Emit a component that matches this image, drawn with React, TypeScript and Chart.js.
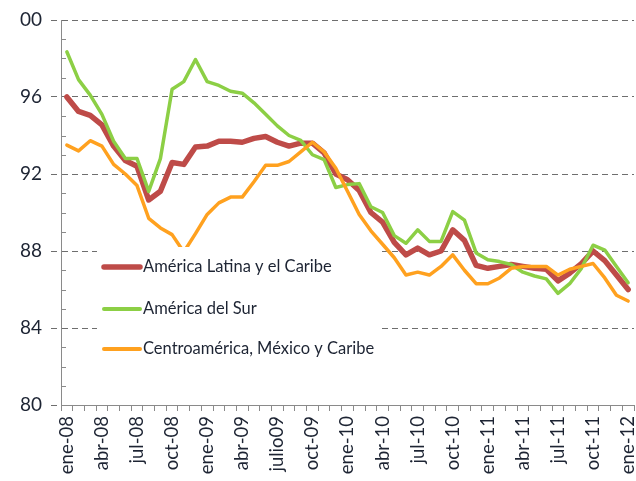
import React, { useEffect, useRef } from "react";
import { Chart, registerables } from "chart.js";

Chart.register(...registerables);

const categories = [
  "ene-08","feb-08","mar-08","abr-08","may-08","jun-08","jul-08","ago-08","sep-08","oct-08","nov-08","dic-08",
  "ene-09","feb-09","mar-09","abr-09","may-09","jun-09","julio09","ago-09","sep-09","oct-09","nov-09","dic-09",
  "ene-10","feb-10","mar-10","abr-10","may-10","jun-10","jul-10","ago-10","sep-10","oct-10","nov-10","dic-10",
  "ene-11","feb-11","mar-11","abr-11","may-11","jun-11","jul-11","ago-11","sep-11","oct-11","nov-11","dic-11",
  "ene-12",
];

const xTickLabels = [
  "ene-08","abr-08","jul-08","oct-08","ene-09","abr-09","julio09","oct-09",
  "ene-10","abr-10","jul-10","oct-10","ene-11","abr-11","jul-11","oct-11","ene-12",
];

const yTickLabels = ["80", "84", "88", "92", "96", "00"];

const seriesNames = [
  "América Latina y el Caribe",
  "América del Sur",
  "Centroamérica, México y Caribe",
];

const latinAmerica = [
  96.0, 95.25, 95.05, 94.55, 93.45, 92.7, 92.4, 90.65, 91.1, 92.6, 92.5, 93.4,
  93.45, 93.7, 93.7, 93.65, 93.85, 93.95, 93.65, 93.45, 93.6, 93.6, 93.1, 92.0,
  91.7, 91.15, 90.0, 89.5, 88.45, 87.8, 88.15, 87.8, 88.0, 89.1, 88.55, 87.25,
  87.1, 87.2, 87.3, 87.2, 87.1, 87.05, 86.45, 86.85, 87.35, 88.0, 87.5, 86.75,
  86.0,
];

const southAmerica = [
  98.35, 96.9, 96.1, 95.1, 93.7, 92.8, 92.8, 91.1, 92.8, 96.4, 96.8, 97.95,
  96.8, 96.6, 96.3, 96.2, 95.7, 95.1, 94.5, 94.0, 93.75, 93.0, 92.75, 91.3,
  91.45, 91.5, 90.3, 90.0, 88.8, 88.4, 89.1, 88.5, 88.5, 90.05, 89.6, 87.9,
  87.55, 87.45, 87.3, 86.9, 86.7, 86.55, 85.8, 86.3, 87.1, 88.3, 88.05, 87.2,
  86.35,
];

const centralAmerica = [
  93.5, 93.2, 93.73, 93.45, 92.5, 92.0, 91.4, 89.7, 89.2, 88.85, 87.95, 88.9,
  89.9, 90.5, 90.8, 90.8, 91.6, 92.45, 92.45, 92.65, 93.15, 93.65, 93.15, 92.3,
  91.1, 89.9, 89.05, 88.35, 87.65, 86.75, 86.9, 86.75, 87.2, 87.8, 87.0, 86.3,
  86.3, 86.6, 87.1, 87.2, 87.2, 87.2, 86.75, 87.05, 87.2, 87.35, 86.6, 85.7,
  85.4,
];

const COLORS = ["#BE4B48", "#8CCF45", "#FFA11F"];
const WIDTHS = [5.5, 3.5, 3.5];
const TEXT = "#1d2433";
const FONT = "Lato, 'Open Sans', sans-serif";

const decorPlugin = {
  id: "decor",
  afterDatasetsDraw(chart: any) {
    const { ctx, chartArea, scales } = chart;
    const y = scales.y;
    ctx.save();
    // minor ticks inside the y axis
    ctx.strokeStyle = "#8a8a8a";
    ctx.lineWidth = 1;
    for (let v = 81; v < 100; v++) {
      if (v % 4 === 0) continue;
      const py = Math.round(y.getPixelForValue(v)) + 0.5;
      ctx.beginPath();
      ctx.moveTo(chartArea.left, py);
      ctx.lineTo(chartArea.left + 5, py);
      ctx.stroke();
    }
    // legend box inside the plot
    ctx.fillStyle = "#ffffff";
    ctx.fillRect(97, 247, 281, 124);
    const rows = [267, 309, 349];
    ctx.lineCap = "round";
    ctx.font = `16.5px ${FONT}`;
    ctx.textBaseline = "middle";
    ctx.textAlign = "left";
    seriesNames.forEach((name, i) => {
      ctx.strokeStyle = COLORS[i];
      ctx.lineWidth = i === 0 ? 5.5 : 4;
      ctx.beginPath();
      ctx.moveTo(104, rows[i]);
      ctx.lineTo(140, rows[i]);
      ctx.stroke();
      ctx.fillStyle = TEXT;
      ctx.fillText(name, 143, rows[i]);
    });
    ctx.restore();
  },
};

export default function App() {
  const ref = useRef<HTMLCanvasElement | null>(null);

  useEffect(() => {
    if (!ref.current) return;
    const series = [latinAmerica, southAmerica, centralAmerica];
    const chart = new Chart(ref.current, {
      type: "line",
      data: {
        labels: categories,
        datasets: series.map((d, i) => ({
          label: seriesNames[i],
          data: d,
          borderColor: COLORS[i],
          backgroundColor: COLORS[i],
          borderWidth: WIDTHS[i],
          pointRadius: 0,
          tension: 0,
          borderJoinStyle: "round",
          borderCapStyle: "round",
          fill: false,
          order: 3 - i,
        })),
      },
      options: {
        animation: false,
        responsive: false,
        devicePixelRatio: 1,
        layout: { padding: { top: 20, right: 2, left: 0, bottom: 0 } },
        plugins: {
          legend: { display: false },
          tooltip: { enabled: false },
        },
        scales: {
          x: {
            type: "category",
            offset: true,
            grid: {
              display: true,
              offset: true,
              drawOnChartArea: false,
              drawTicks: true,
              tickLength: 6,
              tickColor: "#8a8a8a",
            },
            border: { display: true, color: "#8a8a8a", width: 1 },
            ticks: {
              autoSkip: false,
              maxRotation: 90,
              minRotation: 90,
              padding: 5,
              color: TEXT,
              font: { family: FONT, size: 18.5 },
              callback: (_v: any, idx: number) =>
                idx % 3 === 0 ? xTickLabels[idx / 3] : "",
            },
            afterFit: (s: any) => {
              s.height = 76;
              s.paddingLeft = 0;
              s.paddingRight = 0;
            },
          },
          y: {
            min: 80,
            max: 100,
            grid: {
              display: true,
              drawOnChartArea: true,
              drawTicks: true,
              tickLength: 10,
              color: (c: any) =>
                c.tick && c.tick.value === 80 ? "rgba(0,0,0,0)" : "#6e6e6e",
              tickColor: "#6e6e6e",
              tickBorderDash: [6, 4],
            },
            border: { display: true, color: "#8a8a8a", width: 1, dash: [6, 4] },
            ticks: {
              stepSize: 4,
              padding: 9,
              color: TEXT,
              font: { family: FONT, size: 19 },
              callback: (v: any) => yTickLabels[Math.round((Number(v) - 80) / 4)],
            },
            afterFit: (s: any) => {
              s.width = 61;
              s.paddingTop = 0;
              s.paddingBottom = 0;
            },
          },
        },
      },
      plugins: [decorPlugin],
    });
    return () => chart.destroy();
  }, []);

  return (
    <div style={{ position: "fixed", left: 0, top: 0, width: 636, height: 481, background: "#fff" }}>
      <canvas ref={ref} width={636} height={481} style={{ display: "block", width: 636, height: 481 }} />
    </div>
  );
}
